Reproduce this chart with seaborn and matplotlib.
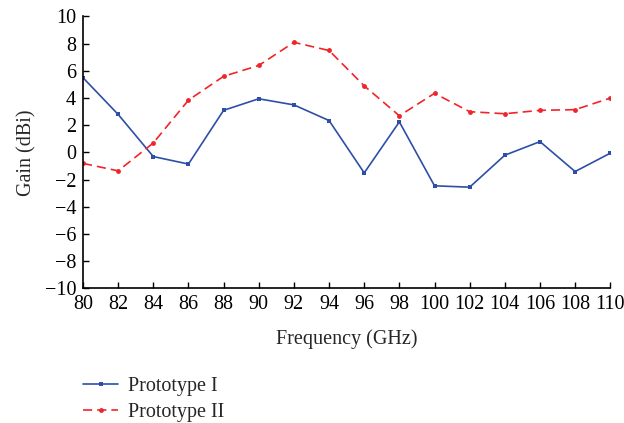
import matplotlib
matplotlib.use("Agg")
import matplotlib.pyplot as plt
import seaborn as sns
import pandas as pd
import numpy as np

freq = [80, 82, 84, 86, 88, 90, 92, 94, 96, 98, 100, 102, 104, 106, 108, 110]
proto1 = [5.5, 2.8, -0.3, -0.85, 3.1, 3.95, 3.5, 2.35, -1.5, 2.25, -2.45, -2.55, -0.2, 0.8, -1.4, -0.05]
proto2 = [-0.8, -1.35, 0.7, 3.85, 5.6, 6.4, 8.1, 7.5, 4.9, 2.7, 4.35, 3.0, 2.85, 3.1, 3.15, 4.0]
xticks = list(range(80, 111, 2))
yticks = list(range(-10, 11, 2))

sns.set_style("ticks")
plt.rcParams['font.family'] = ['Liberation Serif', 'DejaVu Serif']
plt.rcParams['axes.unicode_minus'] = True

df = pd.DataFrame({"Frequency": freq * 2,
                   "Gain": proto1 + proto2,
                   "Series": ["Prototype I"] * len(freq) + ["Prototype II"] * len(freq)})

fs = 14.5
fig = plt.figure(figsize=(6.24, 4.23), dpi=100)
ax = fig.add_axes([0.133, 0.318, 0.845, 0.643])

sns.lineplot(data=df[df.Series == "Prototype I"], x="Frequency", y="Gain", ax=ax,
             color="#2e4fa8", lw=1.2, marker="s", markersize=3.5, markeredgewidth=0,
             label="Prototype I")
sns.lineplot(data=df[df.Series == "Prototype II"], x="Frequency", y="Gain", ax=ax,
             color="#f0252b", lw=1.2, marker="o", markersize=3.5, markeredgewidth=0,
             label="Prototype II")
ax.lines[1].set_dashes([5.5, 3])

ax.set_xlim(80, 110)
ax.set_ylim(-10, 10)
ax.set_xticks(xticks)
ax.set_yticks(yticks)
ax.tick_params(direction="in", length=4, width=1, labelsize=fs, colors="black")
ax.tick_params(axis="x", pad=5)
ax.tick_params(axis="y", pad=5)
for s in ["top", "right"]:
    ax.spines[s].set_visible(False)
for s in ["left", "bottom"]:
    ax.spines[s].set_linewidth(1.2)
    ax.spines[s].set_color("black")
ax.set_xlabel("Frequency (GHz)", fontsize=fs, labelpad=11)
ax.set_ylabel("Gain (dBi)", fontsize=fs, labelpad=6)

handles, labels = ax.get_legend_handles_labels()
ax.get_legend().remove()
fig.legend(handles, labels, loc="upper left", bbox_to_anchor=(0.133, 0.11),
           frameon=False, fontsize=fs, handlelength=1.75, handletextpad=0.5,
           labelspacing=0.35, borderpad=0, borderaxespad=0)

fig.savefig("out.png", dpi=100)
